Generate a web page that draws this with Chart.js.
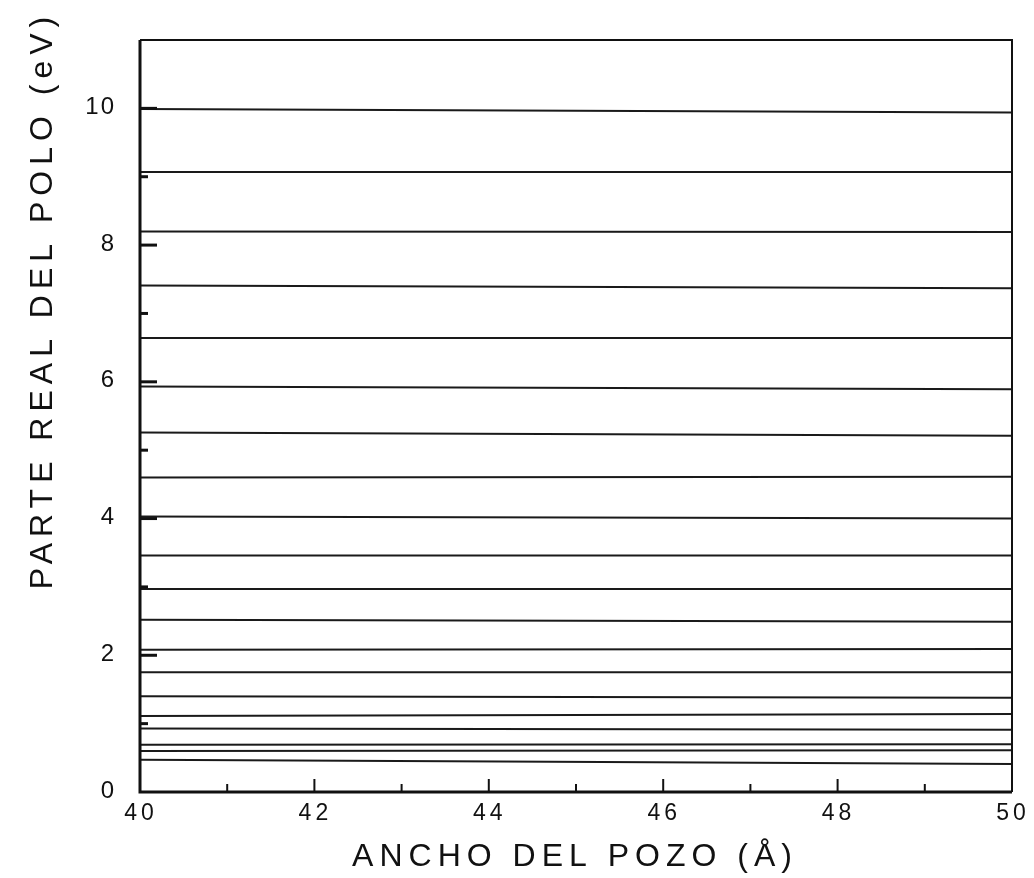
<!DOCTYPE html>
<html>
<head>
<meta charset="utf-8">
<script src="https://cdn.jsdelivr.net/npm/chart.js@4"></script>
<style>
  body { margin: 0; background: #fff; }
  #chart { display: block; }
</style>
</head>
<body>
<canvas id="chart" width="1034" height="878"></canvas>
<script>
// well widths (x ends of every curve)
var widths = [40, 50];
// real part of each pole at 40 Å and at 50 Å
var levelsAt40 = [9.99, 9.07, 8.20, 7.41, 6.64, 5.93, 5.26, 4.60, 4.03, 3.46,
  2.97, 2.52, 2.08, 1.75, 1.40, 1.11, 0.93, 0.69, 0.60, 0.47];
var levelsAt50 = [9.94, 9.07, 8.19, 7.37, 6.64, 5.89, 5.21, 4.61, 4.00, 3.46,
  2.97, 2.49, 2.09, 1.75, 1.38, 1.14, 0.91, 0.70, 0.61, 0.41];
var xTickLabels = [40, 42, 44, 46, 48, 50];
var yTickLabels = [0, 2, 4, 6, 8, 10];

var datasets = levelsAt40.map(function (v, i) {
  return {
    data: [{ x: widths[0], y: v }, { x: widths[1], y: levelsAt50[i] }],
    borderColor: "#1a1a1a",
    borderWidth: 2,
    pointRadius: 0,
    fill: false,
  };
});

var FONT = "'Liberation Sans', Arial, sans-serif";

// frame, inward ticks, tick labels and the two axis titles
var decor = {
  id: "decor",
  afterDraw: function (chart) {
    var ctx = chart.ctx;
    var a = chart.chartArea;
    var xs = chart.scales.x;
    var ys = chart.scales.y;
    ctx.save();
    ctx.strokeStyle = "#111";
    ctx.lineWidth = 2;
    ctx.beginPath();
    ctx.moveTo(a.left, a.top);
    ctx.lineTo(a.right, a.top);
    ctx.lineTo(a.right, a.bottom);
    ctx.stroke();
    ctx.lineWidth = 3;
    ctx.beginPath();
    ctx.moveTo(a.left, a.top);
    ctx.lineTo(a.left, a.bottom);
    ctx.lineTo(a.right, a.bottom);
    ctx.stroke();

    ctx.lineWidth = 3;
    for (var v = 1; v <= 10; v++) {
      var py = ys.getPixelForValue(v);
      var len = v % 2 === 0 ? 17 : 8;
      ctx.beginPath();
      ctx.moveTo(a.left, py);
      ctx.lineTo(a.left + len, py);
      ctx.stroke();
    }
    ctx.lineWidth = 2;
    for (var w = 41; w < 50; w++) {
      var px = xs.getPixelForValue(w);
      var l = w % 2 === 0 ? 13 : 8;
      ctx.beginPath();
      ctx.moveTo(px, a.bottom);
      ctx.lineTo(px, a.bottom - l);
      ctx.stroke();
    }

    ctx.fillStyle = "#111";
    ctx.textBaseline = "middle";
    ctx.font = "24px " + FONT;
    ctx.letterSpacing = "2px";
    ctx.textAlign = "right";
    yTickLabels.forEach(function (t) {
      ctx.fillText(String(t), a.left - 24, ys.getPixelForValue(t) - 1);
    });
    ctx.font = "23px " + FONT;
    ctx.letterSpacing = "4px";
    ctx.textAlign = "center";
    xTickLabels.forEach(function (t) {
      ctx.fillText(String(t), xs.getPixelForValue(t) + 1, a.bottom + 22);
    });

    ctx.font = "32px " + FONT;
    ctx.letterSpacing = "6px";
    ctx.textAlign = "center";
    ctx.textBaseline = "alphabetic";
    ctx.fillText("ANCHO DEL POZO (Å)", 575, 866);
    ctx.translate(52, 300);
    ctx.rotate(-Math.PI / 2);
    ctx.fillText("PARTE REAL DEL POLO (eV)", 0, 0);
    ctx.restore();
  },
};

var config = {
  type: "line",
  data: { datasets: datasets },
  options: {
    responsive: false,
    animation: false,
    layout: { padding: { top: 40, right: 22, left: 0, bottom: 0 } },
    plugins: { legend: { display: false }, tooltip: { enabled: false } },
    scales: {
      x: {
        type: "linear",
        min: 40,
        max: 50,
        afterFit: function (s) { s.height = 86; },
        grid: { display: false, drawTicks: false },
        border: { display: false },
        ticks: { display: false },
      },
      y: {
        type: "linear",
        min: 0,
        max: 11,
        afterFit: function (s) { s.width = 140; },
        grid: { display: false, drawTicks: false },
        border: { display: false },
        ticks: { display: false },
      },
    },
  },
  plugins: [decor],
};

var ctx = document.getElementById("chart").getContext("2d");
new Chart(ctx, config);
</script>
</body>
</html>
